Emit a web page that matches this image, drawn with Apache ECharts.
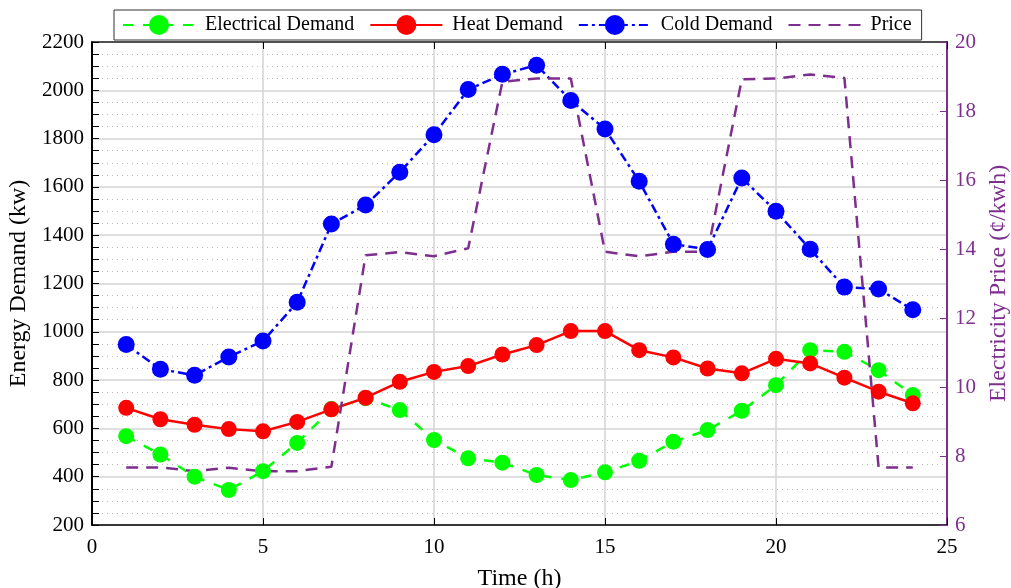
<!DOCTYPE html>
<html>
<head>
<meta charset="utf-8">
<script src="https://cdn.jsdelivr.net/npm/echarts@6/dist/echarts.min.js"></script>
<style>html,body{margin:0;padding:0;background:#fff;}#c{width:1011px;height:588px;}</style>
</head>
<body>
<div id="c"></div>
<script>
const hours = [1,2,3,4,5,6,7,8,9,10,11,12,13,14,15,16,17,18,19,20,21,22,23,24];
const electrical = [568,492,400,345,423,540,680,725,676,552,476,458,407,386,418,466,545,593,673,779,924,917,841,738];
const heat = [685,638,615,597,588,627,679,727,793,834,858,906,945,1003,1003,924,894,848,828,888,869,810,752,704];
const cold = [947,845,820,896,962,1122,1446,1525,1661,1816,2003,2066,2104,1958,1840,1623,1363,1341,1637,1499,1342,1185,1177,1091];
const price = [7.67,7.67,7.56,7.66,7.56,7.56,7.69,13.82,13.91,13.79,14.02,18.85,18.94,18.94,13.92,13.79,13.92,13.92,18.92,18.94,19.06,18.96,7.67,7.67];
const seriesNames = ['Electrical Demand','Heat Demand','Cold Demand','Price'];
const xTitle = 'Time (h)';
const yLeftTitle = 'Energy Demand (kw)';
const yRightTitle = 'Electricity Price (\u00a2/kwh)';

const pair = (arr) => hours.map((h, i) => [h, arr[i]]);
const FONT = 'Liberation Serif';
const PURPLE = '#7E2F8E';

const chart = echarts.init(document.getElementById('c'), null, {renderer: 'canvas'});
chart.setOption({
  animation: false,
  backgroundColor: '#fff',
  textStyle: {fontFamily: FONT},
  grid: {left: 92, right: 64, top: 42, bottom: 63, containLabel: false, outerBoundsMode: 'none'},
  legend: {
    left: 114, top: 10,
    padding: [5, 10, 5, 8],
    itemGap: 15,
    itemWidth: 72, itemHeight: 25,
    backgroundColor: '#fff',
    borderColor: '#333', borderWidth: 1,
    textStyle: {fontFamily: FONT, fontSize: 20, color: '#000', padding: [0, 0, 0, 5]},
    data: [seriesNames[0], seriesNames[1], seriesNames[2], {name: seriesNames[3], itemStyle: {opacity: 0}}]
  },
  xAxis: [{
    type: 'value', min: 0, max: 25, interval: 5, position: 'bottom',
    name: xTitle, nameLocation: 'middle', nameGap: 42,
    nameTextStyle: {fontFamily: FONT, fontSize: 24, color: '#000'},
    axisLine: {show: true, onZero: false, lineStyle: {color: '#000', width: 1.5}},
    axisTick: {show: true, inside: true, length: 7, lineStyle: {color: '#000'}},
    axisLabel: {fontFamily: FONT, fontSize: 21, color: '#000', margin: 12},
    splitLine: {show: true, lineStyle: {color: '#d4d4d4', width: 1.5}}
  }, {
    type: 'value', min: 0, max: 25, interval: 5, position: 'top',
    axisLine: {show: true, onZero: false, lineStyle: {color: '#222', width: 1.5}},
    axisTick: {show: true, inside: true, length: 7, lineStyle: {color: '#000'}},
    axisLabel: {show: false},
    splitLine: {show: false}
  }],
  yAxis: [{
    type: 'value', min: 200, max: 2200, interval: 200, position: 'left',
    name: yLeftTitle, nameLocation: 'middle', nameGap: 57, nameRotate: 90,
    nameTextStyle: {fontFamily: FONT, fontSize: 24, color: '#000'},
    axisLine: {show: true, onZero: false, lineStyle: {color: '#000', width: 2}},
    axisTick: {show: true, inside: true, length: 7, lineStyle: {color: '#000'}},
    minorTick: {show: true, splitNumber: 4, length: 7, lineStyle: {color: '#000'}},
    axisLabel: {fontFamily: FONT, fontSize: 21, color: '#000', margin: 8, formatter: (v) => String(v)},
    splitLine: {show: true, lineStyle: {color: '#d4d4d4', width: 1.5}},
    minorSplitLine: {show: true, lineStyle: {color: '#bbbbbb', width: 1, type: [1, 4]}}
  }, {
    type: 'value', min: 6, max: 20, interval: 2, position: 'right',
    name: yRightTitle, nameLocation: 'middle', nameGap: 40, nameRotate: 90,
    nameTextStyle: {fontFamily: FONT, fontSize: 24, color: PURPLE},
    axisLine: {show: true, onZero: false, lineStyle: {color: PURPLE, width: 2}},
    axisTick: {show: true, inside: true, length: 7, lineStyle: {color: PURPLE}},
    axisLabel: {fontFamily: FONT, fontSize: 21, color: PURPLE, margin: 8, formatter: (v) => String(v)},
    splitLine: {show: false}
  }],
  series: [{
    name: seriesNames[0], type: 'line', xAxisIndex: 0, yAxisIndex: 0,
    data: pair(electrical),
    symbol: 'circle', symbolSize: 16,
    itemStyle: {color: '#00ff00'},
    lineStyle: {color: '#00ff00', width: 2.5, type: [10, 10]}
  }, {
    name: seriesNames[1], type: 'line', xAxisIndex: 0, yAxisIndex: 0,
    data: pair(heat),
    symbol: 'circle', symbolSize: 16,
    itemStyle: {color: '#ff0000'},
    lineStyle: {color: '#ff0000', width: 2.5, type: 'solid'}
  }, {
    name: seriesNames[2], type: 'line', xAxisIndex: 0, yAxisIndex: 0,
    data: pair(cold),
    symbol: 'circle', symbolSize: 17,
    itemStyle: {color: '#0000ff'},
    lineStyle: {color: '#0000ff', width: 2.5, type: [9, 4, 3, 4]}
  }, {
    name: seriesNames[3], type: 'line', xAxisIndex: 0, yAxisIndex: 1,
    data: pair(price),
    symbol: 'none', showSymbol: false,
    itemStyle: {color: PURPLE},
    lineStyle: {color: PURPLE, width: 2.5, type: [12, 8]}
  }]
});
</script>
</body>
</html>
